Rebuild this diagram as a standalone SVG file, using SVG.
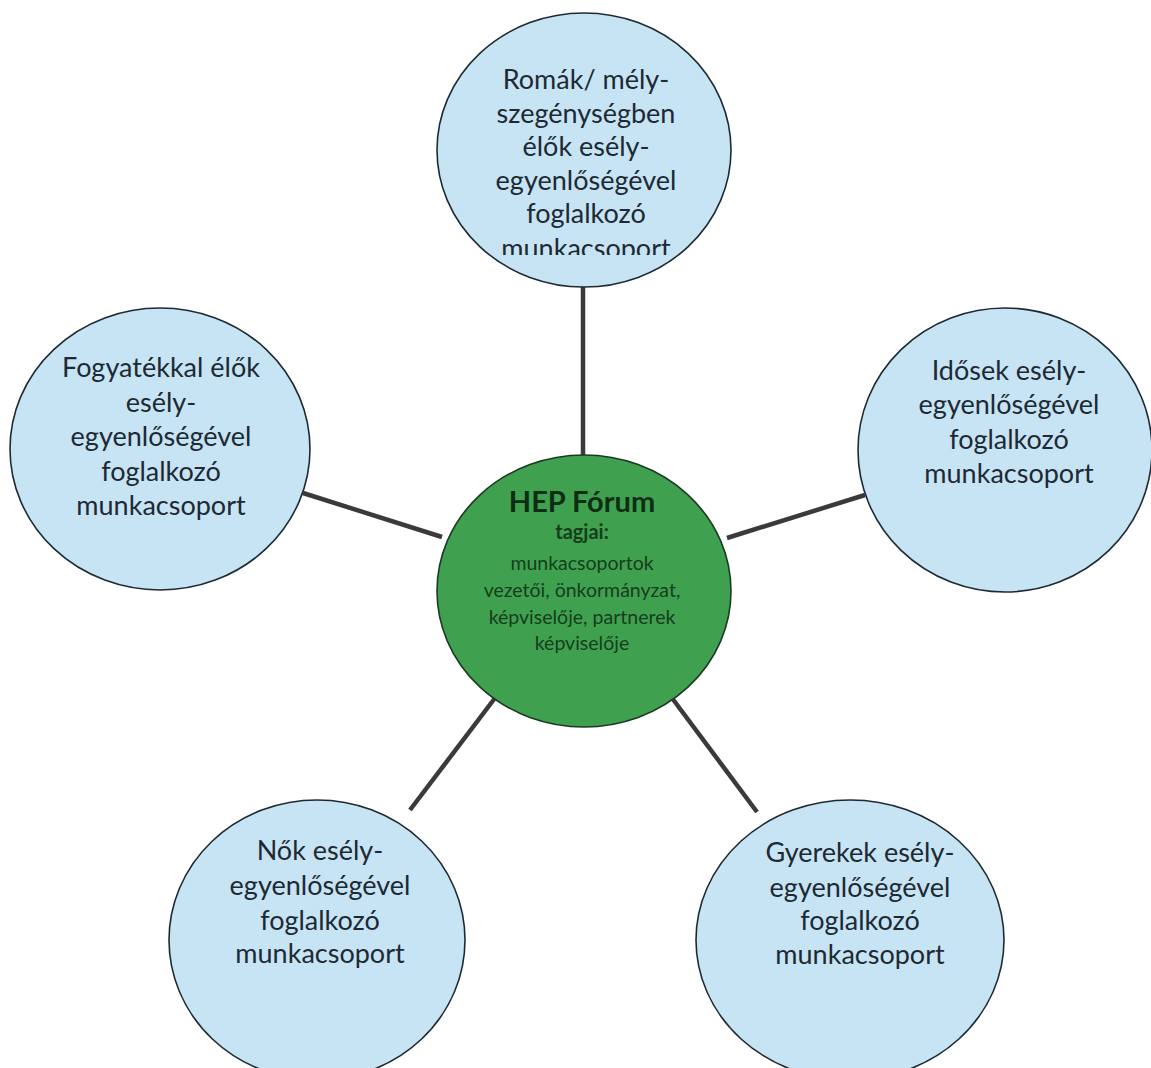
<svg xmlns="http://www.w3.org/2000/svg" width="1151" height="1068" viewBox="0 0 1151 1068">
<style>
.bg{fill:#ffffff}
.blue{fill:#c7e4f5;stroke:#1e2a33;stroke-width:1.6}
.green{fill:#3fa150;stroke:#1c3a22;stroke-width:1.6}
.lbl{font-family:Lato,"Open Sans","Liberation Sans",sans-serif;font-size:27px;fill:#1d2a33;text-anchor:middle}
.gt{font-family:Lato,"Open Sans","Liberation Sans",sans-serif;fill:#163d1c;text-anchor:middle}
.conn{stroke:#3a3a3a;stroke-width:4.5;stroke-linecap:butt;fill:none}
</style>
<defs>
<clipPath id="clipTop"><rect x="430" y="0" width="310" height="255"/></clipPath>
</defs>
<rect class="bg" x="0" y="0" width="1151" height="1068"/>
<g id="connectors">
<line class="conn" x1="583" y1="286" x2="583" y2="456"/>
<line class="conn" x1="303" y1="493" x2="442" y2="537"/>
<line class="conn" x1="727" y1="538" x2="865" y2="495"/>
<line class="conn" x1="495" y1="698" x2="410" y2="810"/>
<line class="conn" x1="672" y1="698" x2="757" y2="812"/>
</g>
<g id="node-top">
<ellipse class="blue" cx="584" cy="150" rx="147" ry="137"/>
<g clip-path="url(#clipTop)">
<text class="lbl"><tspan x="586" y="89">Romák/ mély-</tspan><tspan x="586" y="122.5">szegénységben</tspan><tspan x="586" y="156">élők esély-</tspan><tspan x="586" y="189.5">egyenlőségével</tspan><tspan x="586" y="223">foglalkozó</tspan><tspan x="586" y="258">munkacsoport</tspan></text>
</g>
</g>
<g id="node-left">
<ellipse class="blue" cx="160" cy="449" rx="150" ry="141"/>
<text class="lbl"><tspan x="161" y="377">Fogyatékkal élők</tspan><tspan x="161" y="411.5">esély-</tspan><tspan x="161" y="446">egyenlőségével</tspan><tspan x="161" y="480.5">foglalkozó</tspan><tspan x="161" y="515">munkacsoport</tspan></text>
</g>
<g id="node-right">
<ellipse class="blue" cx="1005" cy="450" rx="147" ry="142"/>
<text class="lbl"><tspan x="1009" y="380">Idősek esély-</tspan><tspan x="1009" y="414">egyenlőségével</tspan><tspan x="1009" y="448.5">foglalkozó</tspan><tspan x="1009" y="483">munkacsoport</tspan></text>
</g>
<g id="node-center">
<ellipse class="green" cx="584" cy="591" rx="147" ry="136"/>
<text class="gt"><tspan x="582" y="512" font-size="29" font-weight="bold" fill="#0e2e13">HEP Fórum</tspan><tspan x="582" y="539" font-size="20" font-weight="bold">tagjai:</tspan><tspan x="582" y="570" font-size="19.5">munkacsoportok</tspan><tspan x="582" y="597" font-size="19.5">vezetői, önkormányzat,</tspan><tspan x="582" y="623.5" font-size="19.5">képviselője, partnerek</tspan><tspan x="582" y="650" font-size="19.5">képviselője</tspan></text>
</g>
<g id="node-bottom-left">
<ellipse class="blue" cx="317" cy="940" rx="148" ry="140"/>
<text class="lbl"><tspan x="320" y="860">Nők esély-</tspan><tspan x="320" y="895">egyenlőségével</tspan><tspan x="320" y="929.5">foglalkozó</tspan><tspan x="320" y="963">munkacsoport</tspan></text>
</g>
<g id="node-bottom-right">
<ellipse class="blue" cx="850" cy="940" rx="154" ry="140"/>
<text class="lbl"><tspan x="860" y="862">Gyerekek esély-</tspan><tspan x="860" y="896.5">egyenlőségével</tspan><tspan x="860" y="930">foglalkozó</tspan><tspan x="860" y="964">munkacsoport</tspan></text>
</g>
</svg>
